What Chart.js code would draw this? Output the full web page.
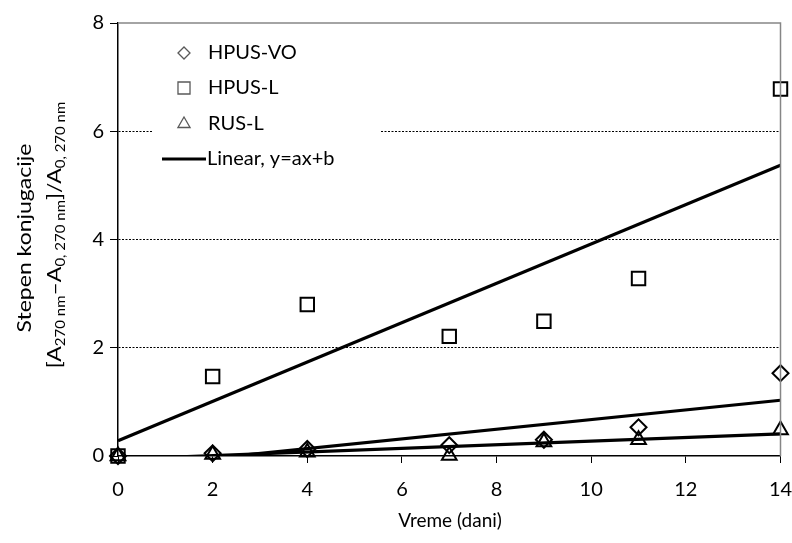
<!DOCTYPE html>
<html>
<head>
<meta charset="utf-8">
<script src="https://cdn.jsdelivr.net/npm/chart.js@4/dist/chart.umd.min.js"></script>
<style>
  html, body { margin: 0; padding: 0; background: #fff; }
  #wrap { width: 792px; height: 543px; position: relative; }
</style>
</head>
<body>
<div id="wrap"><canvas id="chart"></canvas></div>
<script>
// --- data ---
const days = [0, 2, 4, 7, 9, 11, 14];
const hpusVO = [0, 0.05, 0.13, 0.2, 0.3, 0.53, 1.53];
const hpusL = [0, 1.47, 2.8, 2.21, 2.49, 3.28, 6.78];
const rusL = [0, 0.03, 0.07, 0.01, 0.26, 0.3, 0.48];

// linear trend endpoints (x = 0 and x = 14)
const fitDays = [0, 14];
const fitVO = [-0.22, 1.03];
const fitL = [0.28, 5.37];
const fitRUS = [-0.06, 0.41];

const legendLabels = ['HPUS-VO', 'HPUS-L', 'RUS-L', 'Linear, y=ax+b'];
const xTitle = 'Vreme (dani)';

const FONT = 'Lato, "Open Sans", sans-serif';

const toPoints = (xs, ys) => xs.map((x, i) => ({ x: x, y: ys[i] }));

function markerSet(label, ys, style, radius) {
    return {
        label: label,
        data: toPoints(days, ys),
        showLine: false,
        clip: false,
        pointStyle: style,
        pointRadius: radius,
        pointHoverRadius: radius,
        pointBorderColor: '#000',
        pointBackgroundColor: 'rgba(255,255,255,0)',
        pointBorderWidth: 2,
        order: 2
    };
}

function fitSet(ys) {
    return {
        label: 'fit',
        data: toPoints(fitDays, ys),
        showLine: true,
        clip: 0,
        borderColor: '#000',
        borderWidth: 3.2,
        pointRadius: 0,
        pointHoverRadius: 0,
        order: 1
    };
}

// --- titles, legend and frame ---
const decorPlugin = {
    id: 'decor',
    afterDraw(chart) {
        const ctx = chart.ctx;
        const a = chart.chartArea;
        ctx.save();

        // grey top / right frame
        ctx.strokeStyle = '#868686';
        ctx.lineWidth = 1.5;
        ctx.beginPath();
        ctx.moveTo(a.left, a.top);
        ctx.lineTo(a.right, a.top);
        ctx.lineTo(a.right, a.bottom);
        ctx.stroke();

        // legend box
        ctx.fillStyle = '#fff';
        ctx.fillRect(152, 36, 228, 140);
        const rows = [53, 88, 124, 159];
        const styles = ['rectRot', 'rect', 'triangle'];
        const radii = [6, 8.5, 7];
        styles.forEach((s, i) => {
            ctx.strokeStyle = '#595959';
            ctx.fillStyle = 'rgba(255,255,255,0)';
            ctx.lineWidth = 1.3;
            Chart.helpers.drawPoint(ctx, { pointStyle: s, rotation: 0, radius: radii[i], borderWidth: 1.3 }, 184, rows[i]);
        });
        ctx.strokeStyle = '#000';
        ctx.lineWidth = 3.2;
        ctx.beginPath();
        ctx.moveTo(162, rows[3]);
        ctx.lineTo(206, rows[3]);
        ctx.stroke();

        ctx.fillStyle = '#000';
        ctx.font = '20px ' + FONT;
        ctx.textBaseline = 'middle';
        ctx.textAlign = 'left';
        legendLabels.forEach((t, i) => {
            ctx.fillText(t, i === 3 ? 207 : 208, rows[i]);
        });

        // x title
        ctx.textAlign = 'center';
        ctx.font = '19px ' + FONT;
        ctx.fillText(xTitle, 450, 521);

        // y title (rotated, two lines, subscripts)
        ctx.save();
        ctx.translate(25, 238);
        ctx.rotate(-Math.PI / 2);
        ctx.scale(1, 0.85);
        ctx.textAlign = 'center';
        ctx.font = '23px ' + FONT;
        ctx.fillText('Stepen konjugacije', 0, 0);
        ctx.restore();

        const parts = [
            ['[A', false], ['270 nm', true], ['\u2013A', false], ['0, 270 nm', true],
            [']/A', false], ['0, 270 nm', true]
        ];
        const big = '23px ' + FONT, small = '15px ' + FONT;
        let total = 0;
        parts.forEach(p => { ctx.font = p[1] ? small : big; total += ctx.measureText(p[0]).width; });
        ctx.save();
        ctx.translate(55, 235);
        ctx.rotate(-Math.PI / 2);
        ctx.scale(1, 0.85);
        ctx.textAlign = 'left';
        let x = -total / 2;
        parts.forEach(p => {
            ctx.font = p[1] ? small : big;
            ctx.fillText(p[0], x, p[1] ? 7 : 0);
            x += ctx.measureText(p[0]).width;
        });
        ctx.restore();

        ctx.restore();
    }
};

new Chart(document.getElementById('chart'), {
    type: 'scatter',
    data: {
        datasets: [
            markerSet('HPUS-VO', hpusVO, 'rectRot', 8),
            markerSet('HPUS-L', hpusL, 'rect', 9.5),
            markerSet('RUS-L', rusL, 'triangle', 8.5),
            fitSet(fitL),
            fitSet(fitVO),
            fitSet(fitRUS)
        ]
    },
    options: {
        responsive: true,
        maintainAspectRatio: false,
        animation: false,
        layout: { padding: { top: 23, right: 11, left: 0, bottom: 0 } },
        plugins: {
            legend: { display: false },
            tooltip: { enabled: false }
        },
        scales: {
            x: {
                type: 'linear',
                min: 0,
                max: 14,
                afterFit: s => { s.height = 87; s.paddingLeft = 0; s.paddingRight = 0; },
                ticks: { stepSize: 2, color: '#000', font: { family: FONT, size: 20 }, padding: 15 },
                grid: { drawOnChartArea: false, drawTicks: true, tickLength: 7, color: '#000', lineWidth: 1 },
                border: { display: true, color: '#000', width: 1.5 }
            },
            y: {
                min: 0,
                max: 8,
                afterFit: s => { s.width = 118; s.paddingTop = 0; s.paddingBottom = 0; },
                ticks: { stepSize: 2, color: '#000', font: { family: FONT, size: 20 }, padding: 6 },
                grid: {
                    drawTicks: true,
                    tickLength: 8,
                    tickColor: '#000',
                    tickBorderDash: [],
                    lineWidth: 1,
                    color: ctx => (ctx.tick && (ctx.tick.value === 0 || ctx.tick.value === 8)) ? 'rgba(0,0,0,0)' : '#000'
                },
                border: { display: true, color: '#000', width: 1.5, dash: [2, 1.5] }
            }
        }
    },
    plugins: [decorPlugin]
});
</script>
</body>
</html>
